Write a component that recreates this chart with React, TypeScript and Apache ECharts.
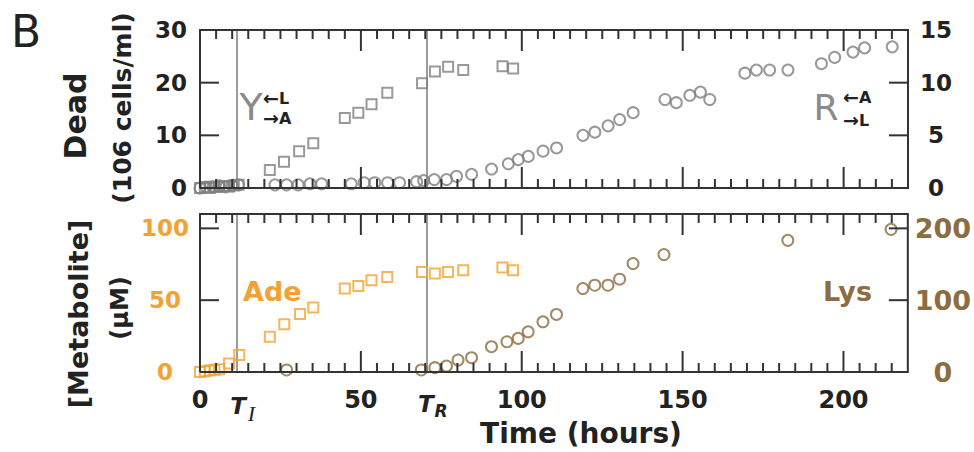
import React, { useEffect, useRef } from 'react';
import * as echarts from 'echarts';

// ---- data ----
const timeMin = 0;
const timeMax = 220;
const majorTimeTicks = [0, 50, 100, 150, 200];
const minorTimeTicks = [5, 10, 15, 20, 25, 30, 35, 40, 45, 55, 60, 65, 70, 75, 80, 85, 90, 95, 105, 110, 115, 120, 125, 130, 135, 140, 145, 155, 160, 165, 170, 175, 180, 185, 190, 195, 205, 210, 215];
const deadLeftTicks = [10, 20];
const deadRightTicks = [5, 10];
const metLeftTicks = [50, 100];
const lysRightTicks = [100, 200];
const T_I = 11.4;
const T_R = 70.5;

// top panel: dead cells, Y strain (squares, left axis 0-30)
const deadYTime = [0, 1.5, 3, 4.5, 6, 7.5, 9, 10.5, 12, 21.7, 26.1, 30.8, 35.2, 45.0, 49.2, 53.3, 58.2, 69.0, 73.0, 77.1, 81.8, 94.0, 97.3];
const deadYValue = [0, 0.2, 0, 0.3, 0.2, 0.4, 0.3, 0.5, 0.6, 3.4, 5.0, 7.0, 8.5, 13.3, 14.3, 15.9, 18.1, 19.9, 22.1, 23.0, 22.4, 23.1, 22.7];

// top panel: dead cells, R strain (circles, right axis 0-15)
const deadRTime = [0, 2, 4, 6, 8, 10, 12, 23.3, 26.9, 30.5, 34.2, 37.8, 47, 51, 54.3, 58.3, 62, 67.3, 69.5, 72.8, 76.6, 79.7, 84.4, 90.6, 95.8, 98.9, 102, 106.6, 110.8, 119, 122.7, 126.8, 130.4, 134.6, 144.5, 148, 152.2, 155.5, 158.4, 169.3, 172.9, 177, 182.7, 193.1, 197.2, 202.9, 206.5, 215.1];
const deadRValue = [0, 0.1, 0.1, 0.2, 0.1, 0.2, 0.3, 0.3, 0.3, 0.3, 0.4, 0.4, 0.4, 0.5, 0.5, 0.5, 0.5, 0.6, 0.7, 0.8, 0.8, 1.1, 1.3, 1.8, 2.3, 2.7, 3.0, 3.5, 3.8, 5.0, 5.3, 5.9, 6.5, 7.15, 8.4, 8.1, 8.8, 9.1, 8.4, 10.9, 11.2, 11.2, 11.2, 11.8, 12.4, 12.9, 13.3, 13.4];

// bottom panel: adenine (squares, left axis 0-110)
const adeTime = [0, 1.5, 3, 4.5, 6, 9, 12.2, 21.7, 26.2, 31.1, 35.2, 45.0, 49.2, 53.3, 58.2, 69.0, 73.0, 77.1, 81.8, 94.0, 97.3];
const adeValue = [0, 0.5, 1, 1.5, 2, 6, 11.8, 24.5, 33.3, 40.3, 44.9, 58.1, 59.9, 63.9, 66.2, 69.7, 68.5, 69.7, 70.8, 72.7, 70.8];

// bottom panel: lysine (circles, right axis 0-220)
const lysTime = [26.9, 68.8, 73, 76.6, 80.2, 84.4, 90.6, 95.4, 98.9, 102, 106.6, 110.8, 119, 122.7, 126.8, 130.4, 134.6, 144.2, 182.7, 214.8];
const lysValue = [2.8, 2.8, 6, 8.3, 16.7, 19.9, 35.2, 42.1, 46.8, 56, 69.9, 80.1, 116.2, 120.8, 120.8, 129.2, 151, 163.5, 183.3, 198.6];

// ---- styles ----
const FONT = '"DejaVu Sans", sans-serif';
const AXIS = '#333333';
const TEXT = '#222';
const GRAY = '#808080';
const VLINE = '#9c9c9c';
const ORANGE = '#F2A232';
const BROWN = '#8C6C40';
const MAJOR_LEN = 21;
const MINOR_LEN = 9;
const Y_TICK_LEN = 19;

const zip = (xs: number[], ys: number[]) => xs.map((x, i) => [x, ys[i]]);

function xAx(gridIndex: number, labels: boolean) {
  return {
    type: 'value',
    gridIndex,
    position: 'bottom',
    min: timeMin,
    max: timeMax,
    interval: 50,
    axisLine: { show: false },
    axisTick: { show: false },
    axisLabel: {
      show: labels,
      margin: 16,
      fontFamily: FONT,
      fontWeight: 'bold',
      fontSize: 24,
      color: TEXT,
      formatter: (v: number) => (majorTimeTicks.includes(v) ? String(v) : ''),
    },
    splitLine: { show: false },
  };
}

function yAx(gridIndex: number, position: 'left' | 'right', max: number, interval: number, color: string, fontSize: number, margin: number, align: string) {
  return {
    type: 'value',
    gridIndex,
    position,
    min: 0,
    max,
    interval,
    axisLine: { show: false },
    axisTick: { show: false },
    axisLabel: {
      show: true,
      margin,
      align,
      fontFamily: FONT,
      fontWeight: 'bold',
      fontSize,
      color,
      formatter: (v: number) => (v % interval === 0 ? String(v) : ''),
    },
    splitLine: { show: false },
  };
}

// frame and tick marks drawn through the axes' scales
function timeTickSeries(xAxisIndex: number, yAxisIndex: number, yMax: number, values: number[], len: number) {
  return {
    type: 'custom',
    coordinateSystem: 'cartesian2d',
    xAxisIndex,
    yAxisIndex,
    clip: false,
    silent: true,
    z: 5,
    data: values.map((v) => [v, 0]),
    renderItem: (params: any, api: any) => {
      const x = api.value(0);
      const b = api.coord([x, 0]);
      const t = api.coord([x, yMax]);
      const st = { stroke: AXIS, lineWidth: 2, fill: null };
      return {
        type: 'group',
        children: [
          { type: 'line', shape: { x1: b[0], y1: b[1], x2: b[0], y2: b[1] - len }, style: st },
          { type: 'line', shape: { x1: t[0], y1: t[1], x2: t[0], y2: t[1] + len }, style: st },
        ],
      };
    },
  };
}

function valueTickSeries(xAxisIndex: number, yAxisIndex: number, side: 'left' | 'right', values: number[]) {
  return {
    type: 'custom',
    coordinateSystem: 'cartesian2d',
    xAxisIndex,
    yAxisIndex,
    clip: false,
    silent: true,
    z: 5,
    data: values.map((v) => [side === 'left' ? timeMin : timeMax, v]),
    renderItem: (params: any, api: any) => {
      const p = api.coord([api.value(0), api.value(1)]);
      const dir = side === 'left' ? 1 : -1;
      return {
        type: 'line',
        shape: { x1: p[0], y1: p[1], x2: p[0] + dir * Y_TICK_LEN, y2: p[1] },
        style: { stroke: AXIS, lineWidth: 2, fill: null },
      };
    },
  };
}

const lineStyleV = { color: VLINE, width: 2, type: 'solid' };
const frameLine = { color: AXIS, width: 2, type: 'solid' };

const arrowRich = {
  a: { fontFamily: FONT, fontWeight: 'bold', fontSize: 19, lineHeight: 16, fill: TEXT },
  b: { fontFamily: FONT, fontWeight: 'bold', fontSize: 16, lineHeight: 16, fill: TEXT },
};

const gridStyle = { show: true, borderColor: AXIS, borderWidth: 2, backgroundColor: 'transparent' };

// top edge of each frame, drawn as a markLine at the axis max
const frameTop = (yMax: number) => ({
  silent: true,
  symbol: ['none', 'none'],
  lineStyle: frameLine,
  label: { show: false },
  data: [{ yAxis: yMax }, { yAxis: 0 }],
  z: 4,
});

const option: any = {
  animation: false,
  backgroundColor: '#fff',
  grid: [
    { left: 200, top: 30, width: 708, height: 158, ...gridStyle },
    { left: 200, top: 214, width: 708, height: 158, ...gridStyle },
  ],
  xAxis: [xAx(0, false), xAx(1, true)],
  yAxis: [
    yAx(0, 'left', 30, 10, TEXT, 23, 13, 'right'),
    yAx(0, 'right', 15, 5, TEXT, 23, 28, 'center'),
    yAx(1, 'left', 110, 50, ORANGE, 23, 35, 'center'),
    yAx(1, 'right', 220, 100, BROWN, 27, 35, 'center'),
  ],
  series: [
    {
      type: 'scatter',
      name: 'Dead Y',
      xAxisIndex: 0,
      yAxisIndex: 0,
      clip: false,
      symbol: 'rect',
      symbolSize: 10,
      itemStyle: { color: 'rgba(0,0,0,0)', borderColor: GRAY, borderWidth: 2 },
      data: zip(deadYTime, deadYValue),
      z: 3,
      markLine: {
        silent: true,
        symbol: ['none', 'none'],
        lineStyle: lineStyleV,
        label: { show: false },
        data: [{ xAxis: T_I }, { xAxis: T_R }],
        z: 1,
      },
    },
    {
      type: 'scatter',
      name: 'Dead R',
      xAxisIndex: 0,
      yAxisIndex: 1,
      clip: false,
      symbol: 'circle',
      symbolSize: 11,
      itemStyle: { color: 'rgba(0,0,0,0)', borderColor: GRAY, borderWidth: 2 },
      data: zip(deadRTime, deadRValue),
      z: 3,
      markLine: frameTop(15),
    },
    {
      type: 'scatter',
      name: 'Ade',
      xAxisIndex: 1,
      yAxisIndex: 2,
      clip: false,
      symbol: 'rect',
      symbolSize: 10,
      itemStyle: { color: 'rgba(0,0,0,0)', borderColor: ORANGE, borderWidth: 2 },
      data: zip(adeTime, adeValue),
      z: 3,
      markLine: {
        silent: true,
        symbol: ['none', 'none'],
        lineStyle: lineStyleV,
        label: {
          show: true,
          position: 'start',
          distance: 16,
          padding: [0, 0, 0, 12],
          rich: {
            t: { fontFamily: FONT, fontStyle: 'italic', fontWeight: 'bold', fontSize: 23, color: TEXT },
            i: { fontFamily: '"Liberation Serif", serif', fontStyle: 'italic', fontSize: 22, color: TEXT, padding: [14, 0, 0, 2] },
            r: { fontFamily: FONT, fontStyle: 'italic', fontWeight: 'bold', fontSize: 17, color: TEXT, padding: [14, 0, 0, 1] },
          },
        },
        data: [
          { xAxis: T_I, label: { formatter: '{t|T}{i|I}' } },
          { xAxis: T_R, label: { formatter: '{t|T}{r|R}' } },
        ],
        z: 1,
      },
    },
    {
      type: 'scatter',
      name: 'Lys',
      xAxisIndex: 1,
      yAxisIndex: 3,
      clip: false,
      symbol: 'circle',
      symbolSize: 11,
      itemStyle: { color: 'rgba(0,0,0,0)', borderColor: BROWN, borderWidth: 2 },
      data: zip(lysTime, lysValue),
      z: 3,
      markLine: frameTop(220),
    },
    timeTickSeries(0, 0, 30, majorTimeTicks, MAJOR_LEN),
    timeTickSeries(0, 0, 30, minorTimeTicks, MINOR_LEN),
    timeTickSeries(1, 2, 110, majorTimeTicks, MAJOR_LEN),
    timeTickSeries(1, 2, 110, minorTimeTicks, MINOR_LEN),
    valueTickSeries(0, 0, 'left', deadLeftTicks),
    valueTickSeries(0, 1, 'right', deadRightTicks),
    valueTickSeries(1, 2, 'left', metLeftTicks),
    valueTickSeries(1, 3, 'right', lysRightTicks),
  ],
  graphic: [
    { type: 'text', x: 11, y: 31, style: { text: 'B', font: `normal 44px ${FONT}`, fill: '#222', textVerticalAlign: 'middle' } },
    { type: 'text', x: 75, y: 116, rotation: Math.PI / 2, style: { text: 'Dead', font: `bold 30px ${FONT}`, fill: TEXT, textAlign: 'center', textVerticalAlign: 'middle' } },
    { type: 'text', x: 122, y: 108, rotation: Math.PI / 2, style: { text: '(106 cells/ml)', font: `bold 25px ${FONT}`, fill: TEXT, textAlign: 'center', textVerticalAlign: 'middle' } },
    { type: 'text', x: 78, y: 314, rotation: Math.PI / 2, style: { text: '[Metabolite]', font: `bold 27px ${FONT}`, fill: TEXT, textAlign: 'center', textVerticalAlign: 'middle' } },
    { type: 'text', x: 120, y: 308, rotation: Math.PI / 2, style: { text: '(μM)', font: `bold 24px ${FONT}`, fill: TEXT, textAlign: 'center', textVerticalAlign: 'middle' } },
    { type: 'text', x: 581, y: 433, style: { text: 'Time (hours)', font: `bold 28px ${FONT}`, fill: TEXT, textAlign: 'center', textVerticalAlign: 'middle' } },
    { type: 'text', x: 251, y: 107, style: { text: 'Y', font: `normal 38px ${FONT}`, fill: '#8a8a8a', textAlign: 'center', textVerticalAlign: 'middle' } },
    { type: 'text', x: 263, y: 98, style: { text: '{a|←}{b|L}', textVerticalAlign: 'middle', rich: arrowRich } },
    { type: 'text', x: 263, y: 118, style: { text: '{a|→}{b|A}', textVerticalAlign: 'middle', rich: arrowRich } },
    { type: 'text', x: 826, y: 107, style: { text: 'R', font: `normal 36px ${FONT}`, fill: '#8a8a8a', textAlign: 'center', textVerticalAlign: 'middle' } },
    { type: 'text', x: 843, y: 97, style: { text: '{a|←}{b|A}', textVerticalAlign: 'middle', rich: arrowRich } },
    { type: 'text', x: 843, y: 120, style: { text: '{a|→}{b|L}', textVerticalAlign: 'middle', rich: arrowRich } },
    { type: 'text', x: 243, y: 291, style: { text: 'Ade', font: `bold 27px ${FONT}`, fill: ORANGE, textVerticalAlign: 'middle' } },
    { type: 'text', x: 823, y: 291, style: { text: 'Lys', font: `bold 27px ${FONT}`, fill: BROWN, textVerticalAlign: 'middle' } },
  ],
};

export default function App() {
  const ref = useRef<HTMLDivElement>(null);
  useEffect(() => {
    if (!ref.current) return;
    const chart = echarts.init(ref.current, null, { renderer: 'svg' });
    chart.setOption(option);
    return () => chart.dispose();
  }, []);
  return (
    <div
      ref={ref}
      style={{ position: 'fixed', left: 0, top: 0, width: 974, height: 452, background: '#fff' }}
    />
  );
}
